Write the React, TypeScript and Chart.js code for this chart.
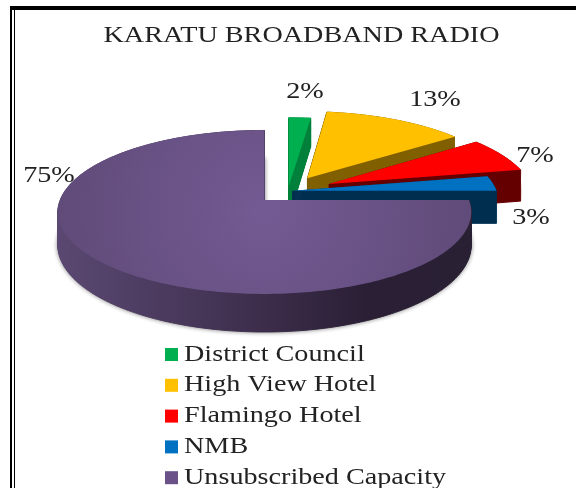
import React, { useEffect, useRef } from "react";
import { Chart, registerables } from "chart.js";

Chart.register(...registerables);

const categories = ["District Council", "High View Hotel", "Flamingo Hotel", "NMB", "Unsubscribed Capacity"];
const shares = [2, 13, 7, 3, 75];
const topColors = ["#00B050", "#FFC000", "#FF0000", "#0070C0", "#6A5288"];
const sideColors = ["#00813B", "#806000", "#660000", "#002F50", "#3F3050"];
const explodeOffsets = [6, 19, 22, 2, 0];
const labelAnchors = [[305, 92], [435, 100], [535, 156], [531, 218], [49, 176]];
const chartTitle = "KARATU BROADBAND RADIO";

const SERIF = "'Liberation Serif', serif";
const STRETCH = 1.225;
// Projection of the pie plane
const CX = 264.5, CY = 200, SX = 204.5, SY = 80.2, PERSP = 0.146, DEPTH = 32.5;
const GROUP_DX = 23.5, GROUP_DY = -9;

function project(u: number, v: number, shift: boolean) {
  const w = 1 + PERSP * v;
  return {
    x: CX + (SX * u) / w + (shift ? GROUP_DX : 0),
    y: CY - (SY * v) / w + (shift ? GROUP_DY : 0),
    w,
  };
}

function slicePath(ctx: CanvasRenderingContext2D, arc: any, depth: number) {
  const e = (arc.options.offset || 0) / 100;
  const mid = (arc.startAngle + arc.endAngle) / 2;
  const ox = e * Math.cos(mid);
  const oy = -e * Math.sin(mid);
  const shift = e > 0;
  ctx.beginPath();
  const steps = Math.max(2, Math.ceil(((arc.endAngle - arc.startAngle) * 180) / Math.PI));
  const apex = project(ox, oy, shift);
  ctx.moveTo(apex.x, apex.y + depth / apex.w);
  for (let i = 0; i <= steps; i++) {
    const a = arc.startAngle + ((arc.endAngle - arc.startAngle) * i) / steps;
    const p = project(Math.cos(a) + ox, -Math.sin(a) + oy, shift);
    ctx.lineTo(p.x, p.y + depth / p.w);
  }
  ctx.closePath();
}

function wideText(ctx: CanvasRenderingContext2D, text: string, x: number, y: number) {
  ctx.save();
  ctx.translate(x, y);
  ctx.scale(STRETCH, 1);
  ctx.fillText(text, 0, 0);
  ctx.restore();
}

const pie3d = {
  id: "pie3d",
  beforeDraw(chart: any) {
    const ctx = chart.ctx as CanvasRenderingContext2D;
    ctx.save();
    ctx.fillStyle = "#fff";
    ctx.fillRect(0, 0, chart.width, chart.height);
    ctx.fillStyle = "#000";
    ctx.fillRect(10, 6, 566, 4);
    ctx.fillRect(10, 6, 2, 482);
    ctx.fillRect(14, 10, 1, 478);
    ctx.restore();
  },
  beforeDatasetsDraw(chart: any) {
    const ctx = chart.ctx as CanvasRenderingContext2D;
    const arcs = chart.getDatasetMeta(0).data;
    ctx.save();
    arcs.forEach((arc: any, i: number) => {
      const isMain = i === arcs.length - 1;
      let side: any = sideColors[i];
      let top: any = topColors[i];
      if (isMain) {
        const g = ctx.createLinearGradient(58, 0, 470, 0);
        g.addColorStop(0, "#5A4872");
        g.addColorStop(0.45, "#40304F");
        g.addColorStop(0.75, "#2A1F35");
        g.addColorStop(1, "#2A2034");
        side = g;
        const r = ctx.createRadialGradient(CX, CY + 10, 10, CX, CY + 10, 215);
        r.addColorStop(0, "#735A92");
        r.addColorStop(1, "#5F4A78");
        top = r;
      }
      ctx.lineJoin = "round";
      for (let d = DEPTH; d > 0; d -= 1) {
        slicePath(ctx, arc, d);
        ctx.fillStyle = side;
        ctx.strokeStyle = side;
        ctx.lineWidth = 1;
        if (isMain && d === DEPTH) {
          ctx.shadowColor = "rgba(0,0,0,0.45)";
          ctx.shadowBlur = 4;
        } else {
          ctx.shadowColor = "transparent";
          ctx.shadowBlur = 0;
        }
        ctx.fill();
        ctx.stroke();
      }
      slicePath(ctx, arc, 0);
      ctx.fillStyle = top;
      ctx.fill();
    });
    ctx.restore();
    return false;
  },
  afterDraw(chart: any) {
    const ctx = chart.ctx as CanvasRenderingContext2D;
    const values: number[] = chart.data.datasets[0].data;
    const total = values.reduce((a, b) => a + b, 0);
    ctx.save();
    ctx.fillStyle = "#222";
    ctx.textBaseline = "middle";
    ctx.textAlign = "center";
    ctx.font = `23px ${SERIF}`;
    wideText(ctx, chartTitle, 301.5, 36);
    values.forEach((v, i) => {
      wideText(ctx, `${Math.round((v / total) * 100)}%`, labelAnchors[i][0], labelAnchors[i][1]);
    });
    ctx.textAlign = "left";
    chart.data.labels.forEach((label: string, i: number) => {
      const y = 354.5 + i * 30.8;
      ctx.fillStyle = topColors[i];
      ctx.fillRect(165, y - 6.5, 13, 13);
      ctx.fillStyle = "#222";
      wideText(ctx, label, 184, y);
    });
    ctx.restore();
  },
};

export default function App() {
  const ref = useRef<HTMLCanvasElement>(null);
  useEffect(() => {
    const chart = new Chart(ref.current as HTMLCanvasElement, {
      type: "pie",
      data: {
        labels: categories,
        datasets: [{ data: shares, backgroundColor: topColors, offset: explodeOffsets, borderWidth: 0 }],
      },
      options: {
        responsive: false,
        animation: false,
        devicePixelRatio: 1,
        plugins: {
          legend: { display: false },
          tooltip: { enabled: false },
        },
      },
      plugins: [pie3d],
    } as any);
    return () => chart.destroy();
  }, []);
  return (
    <canvas
      ref={ref}
      width={576}
      height={488}
      style={{ position: "fixed", left: 0, top: 0, width: 576, height: 488, filter: "blur(0.5px)" }}
    />
  );
}
